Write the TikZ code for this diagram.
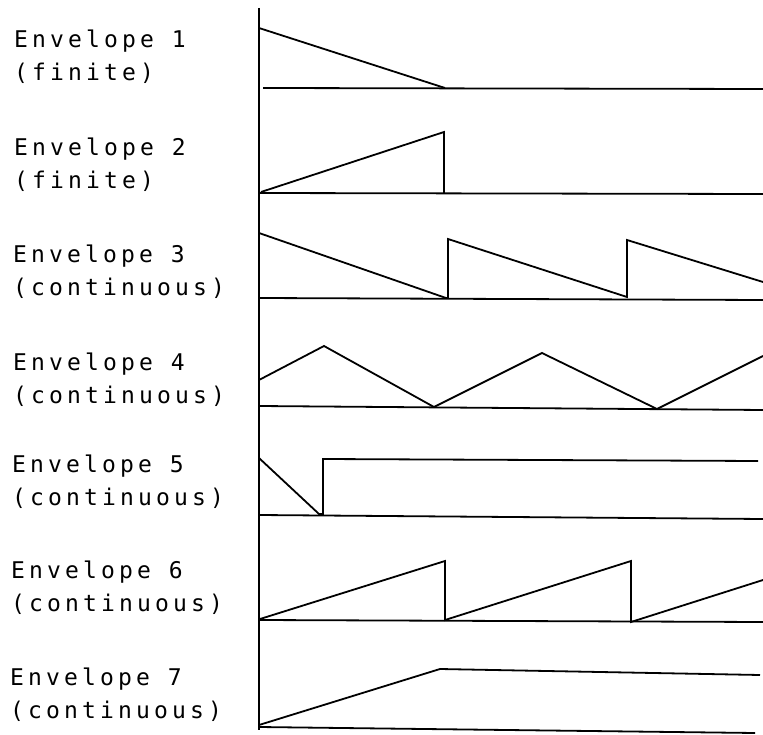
\documentclass[tikz,border=0pt]{standalone}
\usepackage{fontspec}
\newfontfamily\plotfont[LetterSpace=18]{DejaVu Sans Mono}
\usepackage{tikz}
\usetikzlibrary{positioning}

\tikzset{
    envlabel/.style={anchor=base west, inner sep=0pt, font=\plotfont\fontsize{23}{33}\selectfont},
    wave/.style={line width=1.8pt, line join=miter},
    axisline/.style={line width=2pt}
}

\begin{document}
\begin{tikzpicture}[x=1pt, y=-1pt]
    \useasboundingbox (0,0) rectangle (763,735);
    % Define nodes
    \foreach \i/\x/\y/\kind in {1/14/48/finite, 2/14/156/finite, 3/13/263/continuous, 4/13/370/continuous,
                                5/12/472/continuous, 6/11/578/continuous, 7/10/685/continuous}
    {
        \node[envlabel] (env\i) at (\x,\y) {Envelope \i};
        \node[envlabel, below=33pt of env\i.base west, anchor=base west] (kind\i) {(\kind)};
    }
    % Time axis and base lines
    \draw[axisline] (259,8) -- (259,730);
    \draw[wave] (263,88) -- (763,89);
    \draw[wave] (259,193) -- (763,194);
    \draw[wave] (259,298) -- (763,300);
    \draw[wave] (259,406) -- (763,410);
    \draw[wave] (259,515) -- (763,519);
    \draw[wave] (259,620) -- (763,622);
    \draw[wave] (259,727) -- (755,733);
    % Envelope shapes
    \draw[wave] (259,28) -- (445,88);
    \draw[wave] (261,192) -- (444,132) -- (444,193);
    \draw[wave] (259,233) -- (446,298) -- (448,298) -- (448,239) -- (627,297) -- (627,240) -- (763,282);
    \draw[wave] (259,380) -- (324,346) -- (434,407) -- (542,353) -- (657,409) -- (763,356);
    \draw[wave] (259,458) -- (319,514) -- (323,514) -- (323,459) -- (758,461);
    \draw[wave] (260,619) -- (445,561) -- (445,620) -- (631,561) -- (631,622) -- (763,580);
    \draw[wave] (259,725) -- (440,669) -- (760,675);
\end{tikzpicture}
\end{document}
